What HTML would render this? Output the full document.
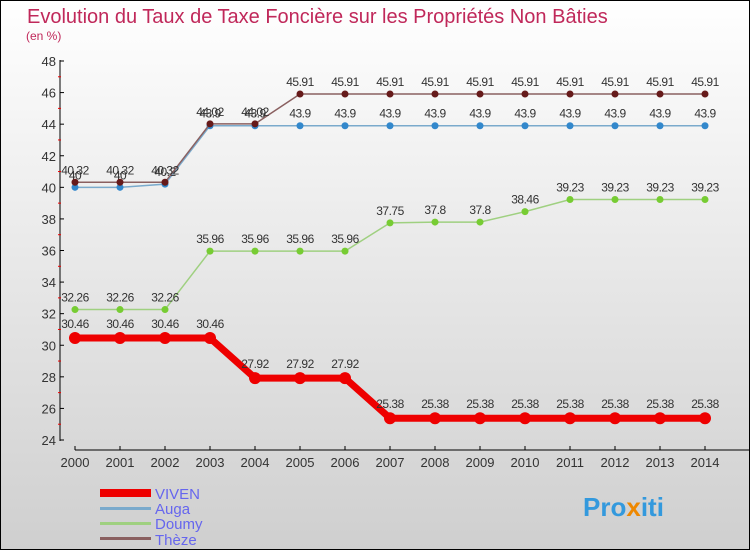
<!DOCTYPE html>
<html><head><meta charset="utf-8"><style>
html,body{margin:0;padding:0}
body{width:750px;height:550px;overflow:hidden;font-family:"Liberation Sans",sans-serif}
</style></head><body>
<svg width="750" height="550" xmlns="http://www.w3.org/2000/svg">
<defs><linearGradient id="bg" x1="0" y1="0" x2="0" y2="1"><stop offset="0" stop-color="#ffffff"/><stop offset="1" stop-color="#cfcfcf"/></linearGradient></defs>
<rect x="0.5" y="0.5" width="749" height="549" fill="url(#bg)" stroke="#000"/>
<text x="27" y="23" font-size="20" fill="#c0285a">Evolution du Taux de Taxe Foncière sur les Propriétés Non Bâties</text>
<text x="26" y="40" font-size="12" fill="#c0285a">(en %)</text>
<g id="axes"></g>
<g id="series"></g>
<g>
<rect x="100" y="489" width="51" height="8" fill="#e00"/>
<text x="155" y="499" font-size="15" fill="#6666ee">VIVEN</text>
<rect x="100" y="507" width="51" height="3" fill="#7aaacc"/>
<text x="155" y="514" font-size="15" fill="#6666ee">Auga</text>
<rect x="100" y="522" width="51" height="3" fill="#9fd080"/>
<text x="155" y="529" font-size="15" fill="#6666ee">Doumy</text>
<rect x="100" y="537" width="51" height="3" fill="#8a6060"/>
<text x="155" y="545" font-size="15" fill="#6666ee">Thèze</text>
</g>
<text x="583" y="516" font-size="26" font-weight="bold" fill="#3399dd">Pro<tspan fill="#ee8800">x</tspan>iti</text>
</svg>
<script>
const years=[2000,2001,2002,2003,2004,2005,2006,2007,2008,2009,2010,2011,2012,2013,2014];
const yTicks=[24,26,28,30,32,34,36,38,40,42,44,46,48];
const viven=[30.46,30.46,30.46,30.46,27.92,27.92,27.92,25.38,25.38,25.38,25.38,25.38,25.38,25.38,25.38];
const auga=[40,40,40.2,43.9,43.9,43.9,43.9,43.9,43.9,43.9,43.9,43.9,43.9,43.9,43.9];
const doumy=[32.26,32.26,32.26,35.96,35.96,35.96,35.96,37.75,37.8,37.8,38.46,39.23,39.23,39.23,39.23];
const theze=[40.32,40.32,40.32,44.02,44.02,45.91,45.91,45.91,45.91,45.91,45.91,45.91,45.91,45.91,45.91];
const NS="http://www.w3.org/2000/svg";
function X(i){return 75+i*45;}
function Y(v){return 440-(v-24)*(379/24);}
function mk(t,a,p){const e=document.createElementNS(NS,t);for(const k in a)e.setAttribute(k,a[k]);p.appendChild(e);return e;}
const ax=document.getElementById('axes');
let l=mk('line',{x1:60,y1:60,x2:60,y2:441,stroke:'#000'},ax);


l=mk('line',{x1:75,y1:450,x2:750,y2:450,stroke:'#000'},ax);


yTicks.forEach((v,i)=>{
 mk('line',{x1:60,y1:Y(v),x2:64,y2:Y(v),stroke:'#000'},ax);
 if(i<yTicks.length-1)mk('line',{x1:58,y1:Y(v+1),x2:61,y2:Y(v+1),stroke:'#e00'},ax);
 const t=mk('text',{x:56,y:Y(v)+5,'font-size':13,fill:'#333','text-anchor':'end'},ax);
 t.textContent=v;
 
 
});
years.forEach((y,i)=>{
 mk('line',{x1:X(i),y1:446,x2:X(i),y2:450,stroke:'#000'},ax);
 const t=mk('text',{x:X(i),y:467,'font-size':13,fill:'#333','text-anchor':'middle'},ax);
 t.textContent=y;
 
 
});
const sg=document.getElementById('series');
function draw(vals,name,color,dot,w,r,labOff){
 const g=mk('g',{},sg);
 
 
 mk('polyline',{points:vals.map((v,i)=>X(i)+','+Y(v)).join(' '),fill:'none',stroke:color,'stroke-width':w},g);
 vals.forEach((v,i)=>{
  const c=mk('circle',{cx:X(i),cy:Y(v),r:r,fill:dot},g);
  
  
  const t=mk('text',{x:X(i),y:Y(v)+labOff,'font-size':12,fill:'#333','text-anchor':'middle','letter-spacing':'-0.5'},g);
  t.textContent=v;
  
  
 });
}
draw(doumy,'doumy','#9fd080','#77cc33',1.5,3.5,-8);
draw(auga,'auga','#7aaacc','#3388cc',1.5,3.5,-8);
draw(theze,'theze','#8a6060','#661a1a',1.5,3.5,-8);
draw(viven,'viven','#ee0000','#ee0000',7,6,-10);
</script>
</body></html>
